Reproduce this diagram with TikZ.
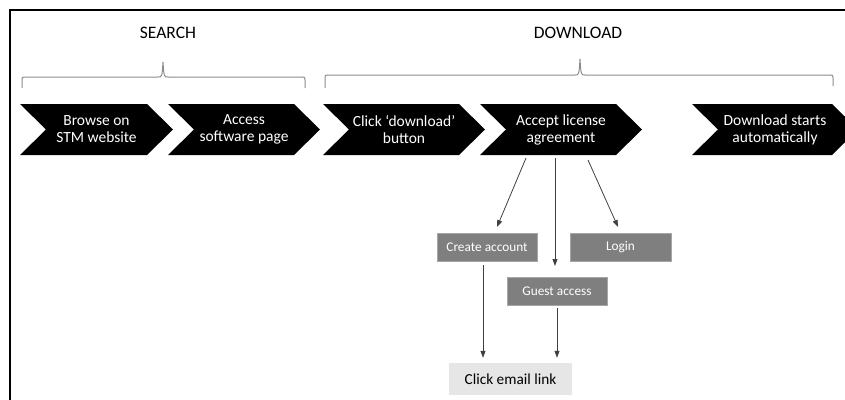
\documentclass[tikz,border=0pt]{standalone}
\usepackage{fontspec}
\setmainfont{Carlito}
\usetikzlibrary{arrows.meta}
\definecolor{boxgrey}{HTML}{7F7F7F}
\definecolor{boxedge}{HTML}{A6A6A6}
\definecolor{lightbox}{HTML}{E7E6E6}
\definecolor{bracegrey}{HTML}{8C8C8C}
\definecolor{arrgrey}{HTML}{404040}
\tikzset{
  chevtext/.style={text=white, align=center, font=\fontsize{15.5}{17}\selectfont, inner sep=0pt},
  title/.style={font=\fontsize{17.5}{20}\selectfont, inner sep=0pt},
  greybox/.style={fill=boxgrey, draw=boxedge, line width=0.6pt, text=white, minimum height=28pt, inner sep=0pt, font=\fontsize{13.3}{15}\selectfont},
  lightbox/.style={fill=lightbox, minimum height=32pt, minimum width=123pt, inner sep=0pt, font=\fontsize{15.3}{17}\selectfont},
  arr/.style={draw=arrgrey, line width=0.8pt, -{Triangle[length=7pt,width=5pt]}},
  bracestyle/.style={draw=bracegrey, line width=1pt}
}
\begin{document}
\begin{tikzpicture}[x=1pt,y=-1pt]
\useasboundingbox (0,0) rectangle (845,399);
\clip (0,0) rectangle (845,399);
% frame
\draw[line width=2pt] (10,402) -- (10,10) -- (848,10);
% titles
\node[title] (search) at (168,33) {SEARCH};
\node[title] (download) at (578,33) {DOWNLOAD};
% braces
\draw[bracestyle] (22,88) -- (22,80) .. controls (22,77) .. (25,77) -- (158,77)
  .. controls (162,77) .. (163,62) .. controls (164,77) .. (168,77) -- (302,77)
  .. controls (305,77) .. (305,80) -- (305,88);
\draw[bracestyle] (325,88) -- (325,78) .. controls (325,75) .. (328,75) -- (575,75)
  .. controls (579,75) .. (580,59) .. controls (581,75) .. (585,75) -- (830,75)
  .. controls (833,75) .. (833,78) -- (833,86);
% chevrons
\foreach \L/\R/\n/\t in {20/173/c1/{Browse on\\STM website}, 168/320/c2/{Access\\software page}, 323/485/c3/{Click ‘download’\\button}, 480/642/c4/{Accept license\\agreement}, 692/858/c5/{Download starts\\automatically}} {
  \fill[black] (\L,104) -- (\R-26,104) -- (\R,129.5) -- (\R-26,155) -- (\L,155) -- (\L+26,129.5) -- cycle;
  \node[chevtext] (\n) at ({(\L+\R)/2},129.5) {\t};
}
% boxes
\node[greybox, minimum width=100pt] (create) at (487,247) {Create account};
\node[greybox, minimum width=101pt] (login) at (620.5,247) {Login};
\node[greybox, minimum width=100pt] (guest) at (557,291) {Guest access};
\node[lightbox] (click) at (510.5,379) {Click email link};
% arrow start/end coordinates
\coordinate (s1) at (526,158);
\coordinate (e1) at (497,227);
\coordinate (s2) at (555,158);
\coordinate (e2) at (555,266);
\coordinate (s3) at (588,160);
\coordinate (e3) at (618,227);
\draw[arr] (s1) -- (e1);
\draw[arr] (s2) -- (e2);
\draw[arr] (s3) -- (e3);
\draw[arr, shorten <=4pt, shorten >=5pt] ([xshift=-4pt]create.south) -- ([xshift=-4pt]create.south |- click.north);
\draw[arr, shorten <=3pt, shorten >=5pt] (guest.south) -- (guest.south |- click.north);
\end{tikzpicture}
\end{document}
